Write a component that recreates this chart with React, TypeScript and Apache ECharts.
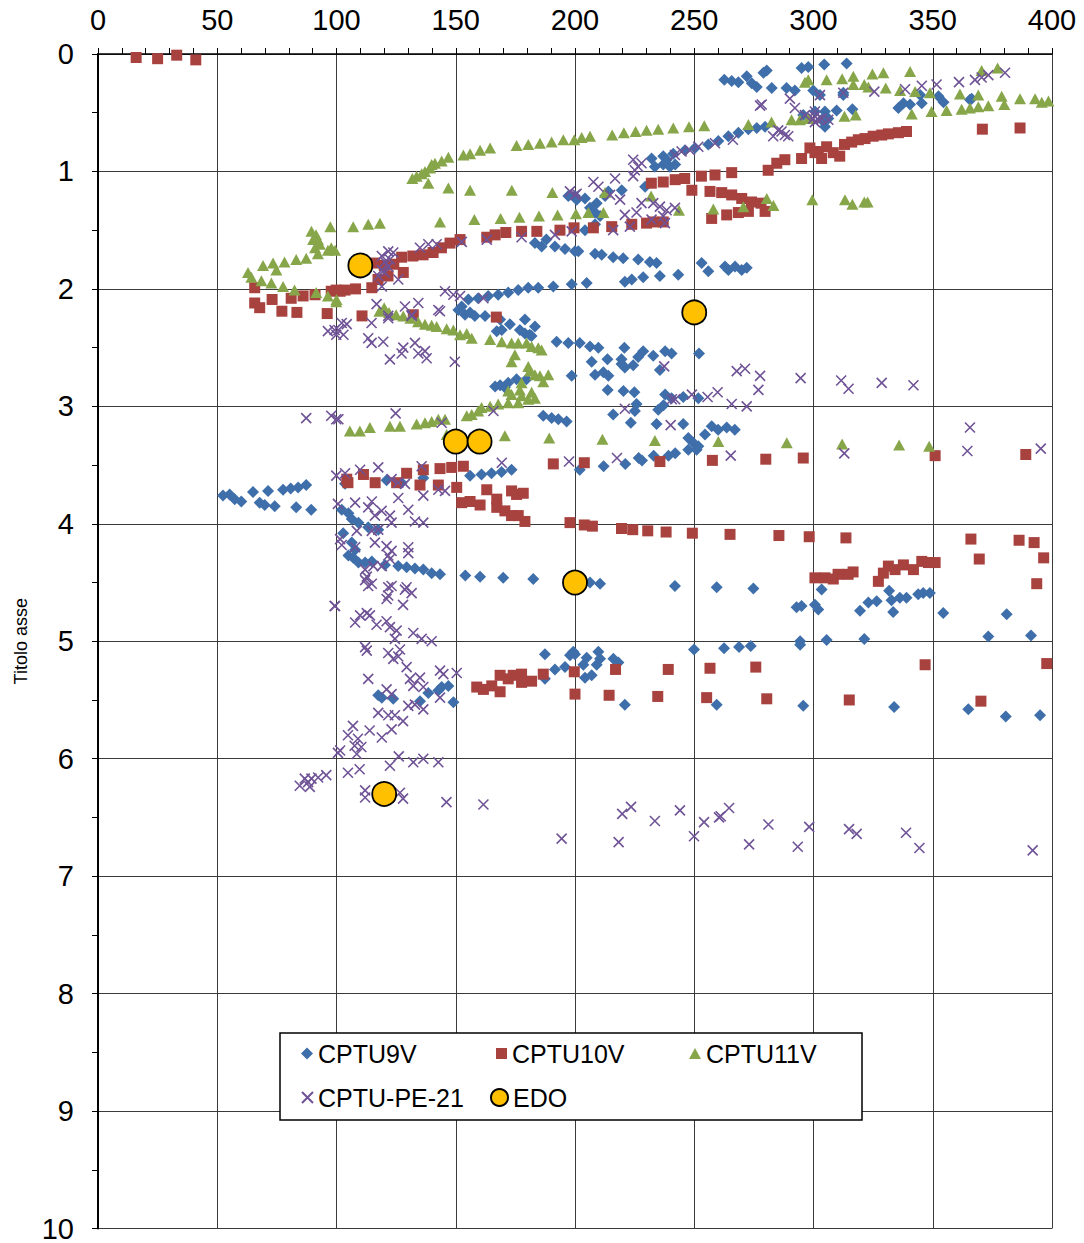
import React, { useEffect, useRef } from "react";
import * as echarts from "echarts";

const xTicks = [0, 50, 100, 150, 200, 250, 300, 350, 400];
const yTicks = [0, 1, 2, 3, 4, 5, 6, 7, 8, 9, 10];
const seriesNames = ["CPTU9V", "CPTU10V", "CPTU11V", "CPTU-PE-21", "EDO"];
const yAxisTitle = "Titolo asse";

const cptu9v: number[][] = [
  [200.7,1.24],[197.2,1.21],[183.2,1.61],[186,1.64],[191.6,1.64],[195.8,1.66],[200,1.68],[188,1.58],
  [152.5,2.15],[155.3,2.09],[159.4,2.08],[163.6,2.06],[167.8,2.05],[172,2.03],[176.2,2.01],[180.4,1.99],[184.6,1.99],[190.9,1.98],[198.6,1.96],[151.1,2.18],[153.9,2.22],[158,2.23],
  [156,2.2],[162.3,2.23],[168.6,2.26],[172.7,2.3],[176.9,2.35],[181,2.39],[183.2,2.32],[179,2.26],[167.2,2.36],[169.3,2.35],[179,2.38],[181.8,2.4],[192.3,2.45],[197.2,2.46],
  [198.6,2.74],[166.5,2.83],[168.6,2.82],[170.6,2.84],[172,2.8],[175.5,2.77],[179.7,2.77],
  [186.7,3.08],[190.2,3.1],[193,3.11],[196.5,3.13],
  [156,3.59],[160.8,3.58],[165,3.57],[169.2,3.56],[173.4,3.54],
  [103.6,3.66],[121,3.63],[127.3,3.65],[136.4,3.61],
  [102.2,3.88],[105,3.91],[106.4,3.96],[109.2,3.99],[113.3,4.03],[117.5,4.05],
  [102.8,4.08],[106.4,4.16],[107.8,4.22],[105,4.27],[107,4.29],[109.2,4.33],[112,4.33],[114.8,4.32],[120.3,4.35],
  [125.9,4.36],[129.4,4.37],[132.9,4.38],[136.4,4.39],[139.9,4.42],[143.4,4.43],
  [154,4.44],[160.2,4.45],[169.9,4.46],[182.5,4.47],
  [202,2.46],[206.3,2.49],[209.8,2.5],[220.7,2.5],[228.6,2.53],[237.8,2.53],[240.5,2.55],[252,2.55],
  [207,2.62],[213.6,2.6],[219.5,2.6],[226.5,2.58],[232.8,2.57],
  [208.4,2.73],[211.9,2.71],[214,2.74],[219.5,2.64],[220.9,2.67],[224.4,2.65],[235.6,2.69],
  [213.7,2.86],[220.3,2.87],[224.9,2.88],[216,3.07],[223.4,3.14],[225.1,3.04],[225.8,2.98],[234.2,3.15],
  [234.9,3.03],[237.1,2.99],[237.8,2.9],[240.5,2.93],[245.4,2.92],[251.7,2.93],[245.4,3.15],
  [247.5,3.27],[249.6,3.31],[251.7,3.34],[254.5,3.24],[257.3,3.17],[260,3.2],[263.6,3.18],[267,3.2],
  [242,3.4],[239.2,3.42],[233,3.42],[228.1,3.46],[226.7,3.44],[221.1,3.49],[212,3.51],[202,3.54],[247.5,3.37],[251,3.37],
  [206.3,4.5],[210.5,4.51],[241.9,4.53],[259.4,4.54],[274.8,4.55],
  [262.6,0.22],[265.7,0.23],[268.5,0.24],[272,0.19],[274.1,0.25],[276.2,0.28],[279,0.16],[280.4,0.14],[282.5,0.29],[288.7,0.29],[292.2,0.31],[295,0.12],[297.8,0.11],[299.9,0.31],
  [295.7,0.52],[300.6,0.49],[276.2,0.63],[279.7,0.62],
  [232.1,0.89],[237,0.87],[241.2,0.85],[246.1,0.82],[250.3,0.8],[255.9,0.77],[260.1,0.74],[264.3,0.7],[268.5,0.67],[272.7,0.64],
  [233.5,0.96],[237,0.94],[239.8,0.96],[242,0.94],[238.5,0.9],
  [229.4,1.13],[219.6,1.16],[214,1.17],[209.1,1.27],[212.6,1.21],[204.2,1.23],[200,1.21],
  [206.3,1.31],[208.4,1.35],[210.5,1.38],[208.4,1.45],[204.2,1.5],
  [201.4,1.68],[208.4,1.7],[211.2,1.71],[216,1.73],[220.2,1.74],[226.5,1.75],[231.4,1.77],[234.2,1.78],
  [253.1,1.78],[255.9,1.85],[262.9,1.81],[264.3,1.84],[267.1,1.81],[269.9,1.84],[272,1.82],
  [204.9,1.95],[220.9,1.94],[223.8,1.92],[228.6,1.9],[235.6,1.89],[243.3,1.88],
  [304.5,0.09],[313.9,0.08],[302.7,0.35],[312.5,0.33],[312.5,0.35],[309.7,0.48],[316.3,0.47],[304.8,0.49],[303.4,0.56],[306.2,0.55],[304.8,0.62],
  [335.6,0.46],[337.7,0.42],[340.5,0.43],[344.7,0.35],[345.4,0.42],[352.4,0.36],[354.5,0.41],[365.6,0.39],[366.3,0.38],
  [52.4,3.76],[55.2,3.75],[57.3,3.79],[60.1,3.81],[65,3.73],[71.3,3.72],[77.6,3.71],[80.8,3.7],[83.9,3.69],[87.3,3.67],[67.8,3.82],[69.9,3.84],[74.1,3.85],[83.1,3.86],[89.4,3.88],
  [117.5,5.46],[119,5.48],[123.8,5.49],[135,5.51],[138.5,5.44],[142.7,5.42],[144.1,5.39],[146.9,5.38],[149,5.52],
  [187.4,5.11],[191.6,5.24],[195.8,5.22],[197.9,5.12],[199.3,5.09],[187.4,5.32],
  [292.9,4.71],[295,4.7],[300.6,4.69],
  [200,5.11],[204.9,5.14],[203.5,5.2],[209.8,5.09],[210.5,5.15],[209.1,5.2],[216.1,5.15],[218.2,5.18],[204.2,5.31],[207,5.29],[220.9,5.54],
  [249.9,5.07],[262.5,5.06],[268.8,5.05],[273.7,5.04],[294.4,5.0],[294.4,5.03],[259.4,5.54],[295.7,5.55],
  [303.4,4.56],[302,4.73],[319.5,4.74],[323,4.67],[326.5,4.66],[331.7,4.57],[333.4,4.75],[332.7,4.65],[336.2,4.63],[339,4.63],[343.9,4.6],[346,4.59],[348.8,4.59],[354.4,4.76],[381,4.77],[305.5,4.99],[321.3,4.98],[373.3,4.96],[391.2,4.95],
  [333.8,5.56],[364.9,5.58],[380.6,5.64],[395,5.63],
];

const cptu10v: number[][] = [
  [16,0.03],[25,0.04],[33,0.01],[41,0.05],
  [65.7,1.99],[65.7,2.12],[67.8,2.16],[73,2.09],[77.1,2.19],[81,2.08],[83.4,2.2],[86,2.06],[91,2.05],[96.1,2.21],[97.8,2.02],[99.9,2.01],[101.5,2.02],[103.6,2.01],[108,2.0],[110.7,2.23],[114.8,1.99],[117.4,1.92],[121.6,1.89],[128,1.86],[116,1.78],[120,1.8],[124,1.79],[127.3,1.73],[132,1.72],[136.3,1.71],[140.5,1.69],[144,1.65],[147.6,1.61],[151.8,1.58],[163,1.56],[166.5,1.54],[171,1.52],[177.6,1.51],[184,1.51],[193.7,1.5],[199.6,1.48],[207.7,1.48],[215.4,1.47],[223.8,1.45],[230,1.44],[232.8,1.43],[237,1.43],
  [132.2,2.22],[167,2.24],
  [232,1.1],[237,1.09],[242,1.07],[246,1.06],[249,1.16],[253,1.04],[258.7,1.03],[265.7,1.01],[256.6,1.17],[261.5,1.18],[265.7,1.2],[269.9,1.23],[274,1.26],[278,1.27],[279.7,1.34],[257.3,1.4],[263.6,1.37],[268.5,1.35],[272.7,1.34],[281,0.99],[284.6,0.93],[288,0.9],[295,0.89],[298.5,0.8],[302,0.83],
  [300.6,0.84],[303.4,0.89],[305.5,0.79],[308.3,0.84],[311,0.87],[313,0.77],[316,0.75],[318.8,0.73],[321.6,0.72],[325,0.7],[328.6,0.69],[331.4,0.68],[335.6,0.67],[339,0.66],[370.8,0.64],[386.6,0.63],
  [104.3,3.62],[104.8,3.65],[111.3,3.58],[116.2,3.65],[125.2,3.65],[129.4,3.57],[136.4,3.54],[135,3.67],[143.4,3.53],[148.3,3.52],[153.2,3.51],[142.7,3.67],[150.4,3.69],[152.5,3.82],[156,3.81],[160.2,3.84],[163,3.71],[167.2,3.79],[167.2,3.86],[170.6,3.89],[173.4,3.72],[175.5,3.75],[178.3,3.74],[173.4,3.93],[176.2,3.93],[179,3.98],[190.9,3.49],[197.9,3.99],
  [203.9,3.48],[235.6,3.47],[257.6,3.46],[280,3.45],[295.7,3.44],
  [203.9,4.01],[207.3,4.02],[219.5,4.04],[224.2,4.05],[230.5,4.06],[238.2,4.07],[249.2,4.08],[265,4.09],[285.5,4.1],[298.2,4.11],
  [351,3.42],[389,3.41],[313.6,4.12],[366,4.13],[386.2,4.14],[392.5,4.16],[369.5,4.3],[396.5,4.29],
  [300.6,4.46],[304.8,4.46],[308.3,4.47],[310.3,4.43],[314.5,4.43],[316.6,4.41],[327.2,4.49],[329.3,4.42],[331.4,4.36],[334.2,4.39],[337.7,4.35],[341.9,4.39],[345.4,4.32],[348.2,4.33],[351,4.33],[393.6,4.51],
  [158.8,5.39],[161.6,5.41],[165.1,5.38],[168.6,5.29],[168.6,5.43],[172,5.32],[174.1,5.29],[177.6,5.28],[177.6,5.35],[181.8,5.34],[186.7,5.28],[199.7,5.26],[200,5.45],
  [217,5.24],[214.3,5.46],[239.1,5.24],[234.7,5.47],[256.6,5.23],[255.2,5.48],[275.8,5.22],[280.4,5.49],
  [346.8,5.2],[397.8,5.19],[315,5.5],[370.2,5.51],
];

const cptu11v: number[][] = [
  [89.5,1.51],[91.4,1.54],[92.2,1.58],[90.2,1.58],[93,1.62],[91,1.65],[92.2,1.7],[96.4,1.67],[97.8,1.65],[97.4,1.47],[87.3,1.74],[83.1,1.75],[78.2,1.77],[73.4,1.78],[69.2,1.8],[74.8,1.84],[62.9,1.86],[64.3,1.9],[68.5,1.93],[72.7,1.95],[77.6,1.98],[82.4,2.01],[91.5,2.03],[96.4,2.06],[99.9,2.11],[99.4,1.67],[100,2.09],
  [107,1.47],[113.3,1.45],[118.2,1.44],[143.4,1.43],[157.8,1.41],[168.8,1.4],[176.7,1.39],[184.9,1.38],[192.7,1.37],[200.4,1.36],
  [131.8,1.06],[133.6,1.04],[135.7,1.02],[137.1,1.0],[139.2,0.97],[139.9,0.94],[141.3,0.93],[144.1,0.91],[146.9,0.88],[138.5,1.1],[146.9,1.14],[156,1.16],[173.5,1.16],[190.5,1.18],
  [153.2,0.86],[156,0.85],[160.2,0.82],[164.4,0.8],[175.5,0.78],[180.4,0.77],[185.3,0.76],[190.2,0.75],[195.1,0.73],[199.7,0.73],
  [202.8,0.71],[206.3,0.7],[215.6,0.69],[220.5,0.67],[225.4,0.66],[230,0.65],[234.9,0.64],[241.2,0.63],[247.8,0.62],[254.2,0.61],[272.7,0.6],[282.4,0.58],[290.8,0.56],[294.3,0.56],[297.8,0.55],[296.4,0.24],[297.8,0.22],
  [212.6,1.18],[231.9,1.21],[205.6,1.35],[211.9,1.35],[243.6,1.33],[258,1.32],[270.6,1.3],[280.4,1.23],[283.2,1.29],[299.5,1.24],
  [305.5,0.22],[312,0.21],[316.7,0.19],[316.7,0.26],[321.3,0.26],[323,0.28],[324.7,0.17],[329.3,0.16],[330.3,0.29],[336.3,0.31],[340.5,0.15],[342.6,0.32],[348.8,0.33],[341.2,0.51],[349.5,0.49],[355.8,0.48],[313,0.53],[317.7,0.52],[361.4,0.34],[362.1,0.47],[365.6,0.46],[369.1,0.45],[369.1,0.35],[373.3,0.44],[370.5,0.14],[377.2,0.12],[378.9,0.36],[380,0.43],[386.6,0.38],[392.9,0.38],[395.7,0.41],[398.5,0.4],
  [313.2,1.24],[316.3,1.28],[321.3,1.26],[322.7,1.26],
  [118,2.19],[122,2.2],[125,2.22],[128,2.23],[131,2.25],[120,2.16],
  [134.2,2.28],[137.1,2.3],[139.9,2.31],[142,2.32],[146.2,2.34],[149,2.35],[151.8,2.39],[154.6,2.38],[156.7,2.42],[164.4,2.43],[169.3,2.45],[173.4,2.46],[176.2,2.46],[179.7,2.46],[181.8,2.49],[184.6,2.5],[186,2.52],
  [174.8,2.56],[173.4,2.62],[180.4,2.66],[181.1,2.7],[183.2,2.73],[185.3,2.74],[188.8,2.73],[186.7,2.79],[177.6,2.8],[176.9,2.86],[172,2.87],[173.4,2.9],[177.6,2.91],[181.8,2.88],[183.2,2.93],[180.4,2.94],[172,2.97],[176.2,2.97],
  [167.8,2.98],[164.4,3.0],[160.8,3.01],[159.4,3.04],[156.7,3.07],[154.6,3.08],
  [145.5,3.11],[142.7,3.11],[139.9,3.13],[137.1,3.14],[133.6,3.15],[126.6,3.17],[122.4,3.17],[114,3.18],[109.8,3.21],[105.6,3.21],
  [170.6,3.25],[189.2,3.27],[146.2,3.24],
  [211.5,3.28],[233.5,3.29],[260.1,3.3],[288.8,3.31],[312,3.32],[335.9,3.33],[348.5,3.34],
];

const cptuPe21: number[][] = [
  [119,1.72],[121.7,1.68],[123.8,1.69],[120.3,1.77],[121.7,1.81],[119,1.84],[117.5,1.89],[120.3,1.86],[125.9,1.92],[119,1.98],[122.4,1.75],[135,1.65],[138.5,1.62],[142,1.62],[152.5,1.6],[163,1.58],[177.6,1.56],[191.6,1.54],[198.6,1.51],[197.9,1.17],[200,1.2],
  [116.8,2.13],[128.7,2.15],[134.3,2.12],[121.7,2.23],[131.5,2.23],[142.7,2.18],[145.5,2.02],[149,2.05],[151.8,2.06],[161.6,2.08],
  [277.6,0.44],[278.3,0.43],[290.1,0.38],[292.2,0.46],[296.4,0.52],[300.6,0.49],[299.9,0.55],[300.6,0.58],[285.2,0.65],[288,0.69],[286.6,0.66],[283.1,0.7],[289.4,0.7],[266.2,0.73],[258.7,0.76],[251.7,0.79],[248.2,0.82],[244.7,0.83],[241.9,0.86],[224.4,0.9],[226.5,0.96],[225.1,0.99],[227.9,0.93],[207.7,1.09],[209.8,1.13],[216.8,1.06],[214.7,1.2],[218.9,1.24],[227.9,1.27],[232.8,1.27],[235.6,1.3],[238.4,1.33],[241.9,1.31],[237,1.38],[237.7,1.44],[232.1,1.41],[223,1.47],[216,1.5],[225.8,1.35],[220.9,1.37],[224.4,1.04],[200.7,1.19],
  [302.7,0.35],[312.5,0.33],[325.5,0.32],[338.4,0.3],[345.4,0.27],[351.6,0.26],[361,0.24],[367.7,0.22],[370.5,0.2],[373.3,0.18],[380.3,0.16],[300.6,0.53],[302,0.56],[303.4,0.55],[306.2,0.56],
  [96.4,2.36],[99.2,2.35],[99.9,2.39],[87.3,3.1],[97.8,3.08],[99.9,3.11],[99.9,3.59],[100.6,3.83],
  [102.2,2.29],[104.3,2.3],[100.8,2.35],[102.9,2.39],[113.3,2.42],[114.7,2.46],[119.6,2.45],[122.4,2.6],[127.3,2.55],[128,2.5],[132.9,2.46],[134.3,2.55],[137.1,2.53],[137.8,2.59],[149.6,2.62],[114.7,2.29],[121.7,2.25],[131.5,2.22],[143.4,2.19],
  [100.8,3.11],[124.8,3.06],[144.1,3.14],[165.8,3.04],[197.5,3.47],[169.3,3.48],
  [103.6,3.57],[109.9,3.54],[117.5,3.52],[123.1,3.62],[125.9,3.65],[135.7,3.51],[128.7,3.66],[136.4,3.76],[142.7,3.71],[145.5,3.72],[125.9,3.78],[130.1,3.88],[107.8,3.82],[114.8,3.81],[113.3,3.86],[118.9,3.89],[122.4,3.93],[116.1,3.93],[123.1,3.99],[132.9,3.98],[136.4,3.99],
  [101.5,4.13],[102.2,4.18],[107.8,4.2],[108.5,4.06],[114.8,4.06],[117.5,4.05],[116.1,4.16],[121.7,4.27],[122.4,4.3],[123.1,4.23],[121,4.19],[130.1,4.2],[130.1,4.25],[112,4.39],[112.7,4.45],[115.5,4.36],[123.1,4.53],[113.3,4.53],[129.4,4.54],[119,4.36],
  [237.4,2.66],[242,2.94],[240.6,2.94],[249,2.9],[255.6,2.92],[259.8,2.88],[265.7,2.98],[272,3.0],[267.8,2.7],[271.3,2.68],[277.6,2.74],[276.9,2.86],[294.6,2.76],[220.9,3.02],[240.1,3.16],[217.6,3.44],[265.3,3.42],
  [311.6,2.78],[314.7,2.85],[328.6,2.8],[341.9,2.82],[312.9,3.4],[365.6,3.18],[364.5,3.38],[395.3,3.36],
  [99.2,4.7],[84.6,6.23],[86.7,6.17],[88.1,6.2],[88.8,6.24],[89.5,6.17],[92.3,6.16],[95.7,6.14],[100.6,5.95],
  [112,4.48],[114.8,4.51],[121.7,4.54],[121,4.64],[121.7,4.61],[128.7,4.56],[131.5,4.59],[127.9,4.69],[99.4,4.7],[107.8,4.84],[109.9,4.78],[112.7,4.76],[114,4.78],[116.8,4.86],[121,4.83],[122.4,4.88],[125.2,4.91],[124.5,4.98],[132.2,4.93],[135.7,4.98],[139.9,5.0],
  [112,5.05],[112.7,5.08],[121.7,5.1],[123.8,5.15],[125.9,5.13],[126.6,5.07],[129.4,5.22],[113.3,5.32],[121,5.41],[123.1,5.45],[130.8,5.32],[132.2,5.38],[135,5.31],[136.4,5.39],[143.4,5.25],[144.8,5.28],[150.4,5.27],[143.4,5.48],
  [130.1,5.55],[132.9,5.54],[136.4,5.58],[117.5,5.61],[121.7,5.63],[124.5,5.63],[127.9,5.68],[119,5.82],[123.1,5.75],[104.8,5.8],[106.9,5.72],[109,5.83],[107.6,5.89],[110.4,5.9],[113.9,5.76],[101.5,5.93],[108.5,5.96],
  [126.1,5.98],[122.4,6.06],[132.2,6.03],[136.4,6.0],[142.7,6.03],[104.8,6.12],[109.7,6.09],[112,6.27],[112,6.33],[126.6,6.29],[127.9,6.34],[146.1,6.37],[161.6,6.39],[194.4,6.68],
  [223.5,6.41],[219.8,6.47],[233.5,6.53],[244,6.44],[218.3,6.71],[249.9,6.66],[254.1,6.54],[260.4,6.5],[261.1,6.49],[264.6,6.42],[273,6.73],[281.1,6.56],[293.4,6.75],[298.2,6.58],
  [314.9,6.6],[318.1,6.64],[338.8,6.63],[344.4,6.76],[391.9,6.78],
];

const edo: number[][] = [
  [110,1.8],[250,2.2],[150,3.3],[160,3.3],[200,4.5],[120,6.3],
];

const FONT = "'Liberation Sans', Arial, sans-serif";

export default function App() {
  const ref = useRef<HTMLDivElement>(null);
  useEffect(() => {
    document.body.style.margin = "0";
    if (!ref.current) return;
    const chart = echarts.init(ref.current, undefined, { renderer: "svg" });
    const crossPath = "path://M0,0L10,10M10,0L0,10";
    const legendPos = [
      { left: 301, top: 1041 },
      { left: 496, top: 1041 },
      { left: 689, top: 1041 },
      { left: 301, top: 1085 },
      { left: 490, top: 1085 },
    ];
    const legendIcon = [
      [12, 12],
      [11, 11],
      [12, 11],
      [11, 11],
      [17, 17],
    ];
    chart.setOption({
      animation: false,
      backgroundColor: "#fff",
      textStyle: { fontFamily: FONT },
      grid: { left: 98, right: 32, top: 54, bottom: 12, containLabel: false },
      xAxis: {
        type: "value",
        position: "top",
        min: xTicks[0],
        max: xTicks[xTicks.length - 1],
        interval: 50,
        axisLine: { show: true, lineStyle: { color: "#000", width: 1.5 } },
        axisTick: { show: true, length: 6, lineStyle: { color: "#000" } },
        minorTick: { show: true, splitNumber: 5, length: 6, lineStyle: { color: "#000" } },
        axisLabel: { fontSize: 29, color: "#000", fontFamily: FONT, margin: 20 },
        splitLine: { show: true, lineStyle: { color: "#3a3a3a", width: 1 } },
      },
      yAxis: {
        type: "value",
        inverse: true,
        min: yTicks[0],
        max: yTicks[yTicks.length - 1],
        interval: 1,
        name: yAxisTitle,
        nameLocation: "middle",
        nameGap: 68,
        nameRotate: 90,
        nameTextStyle: { fontSize: 18, color: "#000", fontFamily: FONT },
        axisLine: { show: true, lineStyle: { color: "#000", width: 2 } },
        axisTick: { show: true, length: 6, lineStyle: { color: "#000" } },
        minorTick: { show: true, splitNumber: 2, length: 6, lineStyle: { color: "#000" } },
        axisLabel: { fontSize: 29, color: "#000", fontFamily: FONT, margin: 24 },
        splitLine: { show: true, lineStyle: { color: "#3a3a3a", width: 1 } },
      },
      legend: seriesNames.map((n, i) => ({
        data: [n],
        left: legendPos[i].left,
        top: legendPos[i].top,
        padding: 0,
        itemWidth: legendIcon[i][0],
        itemHeight: legendIcon[i][1],
        itemGap: 0,
        z: 200,
        textStyle: { fontSize: 25, color: "#000", fontFamily: FONT, padding: [0, 0, 0, 0] },
      })),
      graphic: [
        {
          type: "rect",
          z: 150,
          shape: { x: 280, y: 1033, width: 582, height: 87 },
          style: { fill: "#fff", stroke: "#000", lineWidth: 1.5 },
        },
      ],
      series: [
        {
          name: seriesNames[0],
          type: "scatter",
          data: cptu9v,
          symbol: "diamond",
          symbolSize: [12, 12],
          itemStyle: { color: "#3f6faa", opacity: 1 },
        },
        {
          name: seriesNames[1],
          type: "scatter",
          data: cptu10v,
          symbol: "rect",
          symbolSize: [11, 11],
          itemStyle: { color: "#a8423f", opacity: 1 },
        },
        {
          name: seriesNames[2],
          type: "scatter",
          data: cptu11v,
          symbol: "triangle",
          symbolSize: [12, 11],
          itemStyle: { color: "#87a64a", opacity: 1 },
        },
        {
          name: seriesNames[3],
          type: "scatter",
          data: cptuPe21,
          symbol: crossPath,
          symbolSize: [10, 10],
          itemStyle: { color: "rgba(0,0,0,0)", borderColor: "#6f5396", borderWidth: 1.6, opacity: 1 },
        },
        {
          name: seriesNames[4],
          type: "scatter",
          data: edo,
          symbol: "circle",
          symbolSize: 24,
          itemStyle: { color: "#ffc000", borderColor: "#000", borderWidth: 1.8, opacity: 1 },
        },
      ],
    });
    return () => chart.dispose();
  }, []);
  return <div ref={ref} style={{ width: 1084, height: 1243 }} />;
}
